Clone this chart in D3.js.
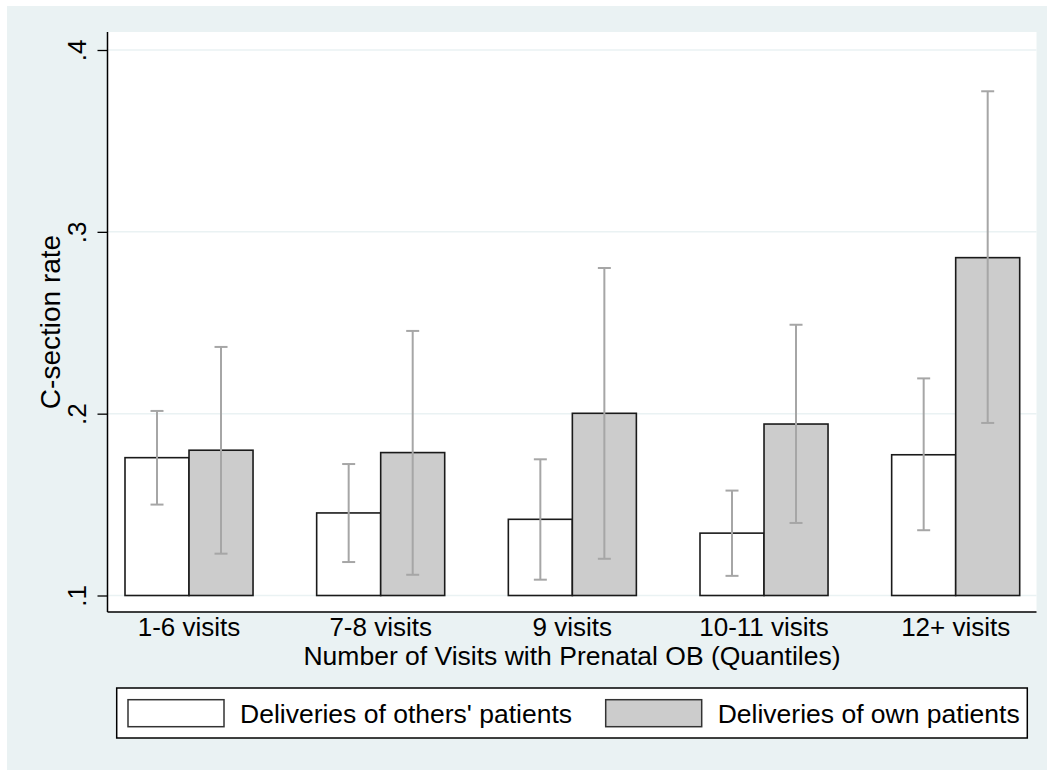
<!DOCTYPE html>
<html lang="en">
  <head>
    <meta charset="utf-8">
    <title>C-section rate by prenatal visits</title>
    <script src="https://cdn.jsdelivr.net/npm/d3@7"></script>
    <style>
    body{margin:0;background:#fff;}
    text{font-family:"Liberation Sans",Arial,sans-serif;fill:#000;}
    </style>
  </head>
  <body>
    <svg></svg>
    <script>
      // data
      var categories=["1-6 visits","7-8 visits","9 visits","10-11 visits","12+ visits"];
      var seriesNames=["Deliveries of others' patients","Deliveries of own patients"];
      var others=[0.1758,0.1454,0.1419,0.1343,0.1774];
      var othersLo=[0.1500,0.1184,0.1087,0.1108,0.1359];
      var othersHi=[0.2015,0.1723,0.1749,0.1577,0.2194];
      var own=[0.1799,0.1786,0.2002,0.1943,0.2858];
      var ownLo=[0.1230,0.1114,0.1202,0.1399,0.1949];
      var ownHi=[0.2367,0.2455,0.2801,0.2489,0.3773];
      var yTicks=[0.1,0.2,0.3,0.4];
      var yTickLabels=[".1",".2",".3",".4"];

      (function(){
      var width=1047,height=770;
      var pLeft=107.5,pRight=1036.5,pTop=32,pBottom=612;
      var fills=["#ffffff","#cccccc"];

      var svg=d3.select("svg")
                .attr("width",width)
                .attr("height",height);

      svg.append("rect")
         .attr("x",7).attr("y",6)
         .attr("width",width-7).attr("height",height-6)
         .attr("fill","#eaf2f3");

      svg.append("rect")
         .attr("x",pLeft).attr("y",pTop)
         .attr("width",pRight-pLeft).attr("height",pBottom-pTop)
         .attr("fill","#ffffff");

      var xscale=d3.scaleBand()
                   .domain(categories)
                   .range([125,1019.7])
                   .paddingInner(0.332)
                   .paddingOuter(0);
      var sub=d3.scaleBand()
                .domain([0,1])
                .range([0,xscale.bandwidth()]);
      var yscale=d3.scaleLinear()
                   .domain([0.1,0.4])
                   .range([595.5,50]);

      // gridlines
      svg.append("g")
         .selectAll("line")
         .data(yTicks)
         .enter()
         .append("line")
         .attr("x1",pLeft).attr("x2",pRight)
         .attr("y1",function(d){return yscale(d);})
         .attr("y2",function(d){return yscale(d);})
         .attr("stroke","#eaf2f3")
         .attr("stroke-width",1.5);

      var rows=categories.map(function(c,i){
        return [
          {cat:c,k:0,v:others[i],lo:othersLo[i],hi:othersHi[i]},
          {cat:c,k:1,v:own[i],lo:ownLo[i],hi:ownHi[i]}
        ];
      });
      var flat=[].concat.apply([],rows);

      svg.append("g")
         .selectAll("rect")
         .data(flat)
         .enter()
         .append("rect")
         .attr("x",function(d){return xscale(d.cat)+sub(d.k);})
         .attr("y",function(d){return yscale(d.v);})
         .attr("width",sub.bandwidth())
         .attr("height",function(d){return yscale(0.1)-yscale(d.v);})
         .attr("fill",function(d){return fills[d.k];})
         .attr("stroke","#1a1a1a")
         .attr("stroke-width",1.6);

      // error bars
      var err=svg.append("g")
                 .attr("stroke","#a6a6a6")
                 .attr("stroke-width",2)
                 .attr("fill","none");
      function cx(d){return xscale(d.cat)+sub(d.k)+sub.bandwidth()/2;}
      err.selectAll("line.v")
         .data(flat)
         .enter()
         .append("line")
         .attr("class","v")
         .attr("x1",cx).attr("x2",cx)
         .attr("y1",function(d){return yscale(d.lo);})
         .attr("y2",function(d){return yscale(d.hi);});
      ["lo","hi"].forEach(function(key){
        err.selectAll("line."+key)
           .data(flat)
           .enter()
           .append("line")
           .attr("class",key)
           .attr("x1",function(d){return cx(d)-6.5;})
           .attr("x2",function(d){return cx(d)+6.5;})
           .attr("y1",function(d){return yscale(d[key]);})
           .attr("y2",function(d){return yscale(d[key]);});
      });

      // axes
      var yAxis=d3.axisLeft(yscale)
                  .tickValues(yTicks)
                  .tickFormat(function(d,i){return yTickLabels[i];})
                  .tickSize(10)
                  .tickSizeOuter(0);
      var ya=svg.append("g")
                .attr("transform","translate("+pLeft+",0)")
                .call(yAxis);
      ya.select(".domain").remove();
      ya.selectAll(".tick line").attr("stroke","#000").attr("stroke-width",1.3);
      ya.selectAll(".tick text")
        .attr("x",null).attr("dy",null)
        .attr("transform","translate(-22,0) rotate(-90)")
        .attr("text-anchor","middle")
        .attr("font-size",26)
        .attr("font-family","Liberation Sans, Arial, sans-serif");
      svg.append("line")
         .attr("x1",pLeft).attr("x2",pLeft)
         .attr("y1",pTop).attr("y2",pBottom)
         .attr("stroke","#000").attr("stroke-width",1.5);

      var xAxis=d3.axisBottom(xscale).tickSize(0).tickPadding(0);
      var xa=svg.append("g")
                .attr("transform","translate(0,"+pBottom+")")
                .call(xAxis);
      xa.select(".domain").remove();
      xa.selectAll(".tick text")
        .attr("y",24).attr("dy",null)
        .attr("font-size",26)
        .attr("font-family","Liberation Sans, Arial, sans-serif");
      svg.append("line")
         .attr("x1",pLeft).attr("x2",pRight)
         .attr("y1",pBottom).attr("y2",pBottom)
         .attr("stroke","#000").attr("stroke-width",1.5);

      svg.append("text")
         .attr("x",(pLeft+pRight)/2)
         .attr("y",665)
         .attr("text-anchor","middle")
         .attr("font-size",26.5)
         .text("Number of Visits with Prenatal OB (Quantiles)");
      svg.append("text")
         .attr("transform","translate(60,"+((pTop+pBottom)/2)+") rotate(-90)")
         .attr("text-anchor","middle")
         .attr("font-size",28)
         .text("C-section rate");

      // legend
      var lg=svg.append("g");
      lg.append("rect")
        .attr("x",116.7).attr("y",688)
        .attr("width",910.6).attr("height",50)
        .attr("fill","#fff").attr("stroke","#000").attr("stroke-width",1.5);
      var keyX=[128,605.7];
      seriesNames.forEach(function(name,i){
        lg.append("rect")
          .attr("x",keyX[i]).attr("y",699.7)
          .attr("width",96).attr("height",27)
          .attr("fill",fills[i]).attr("stroke","#333").attr("stroke-width",1.5);
        lg.append("text")
          .attr("x",keyX[i]+112)
          .attr("y",722.7)
          .attr("font-size",26.5)
          .text(name);
      });
      })();
    </script>
  </body>
</html>
